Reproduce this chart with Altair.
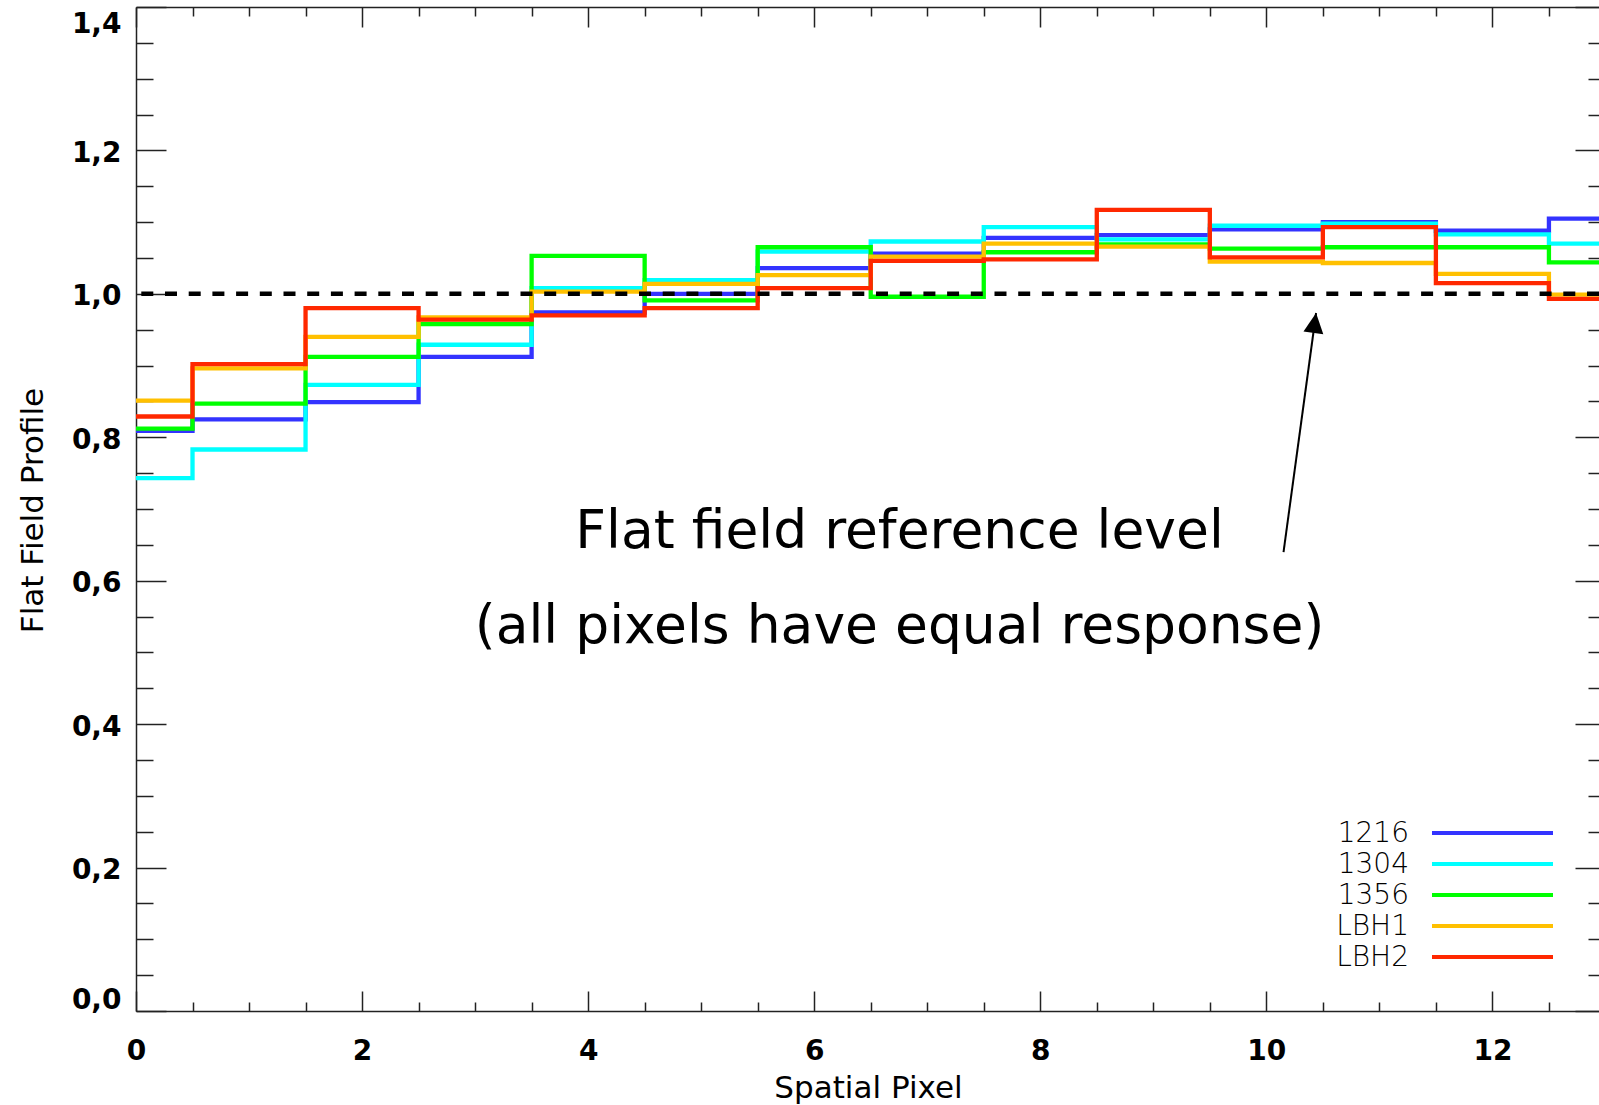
import altair as alt
import pandas as pd

# ---- data -------------------------------------------------------------
pixels = list(range(14))
series_names = ["1216", "1304", "1356", "LBH1", "LBH2"]
series_colors = ["#3333ff", "#00ffff", "#00ff00", "#ffc000", "#ff2800"]
series_widths = [4.3, 4.3, 4.3, 4.3, 5]

profile_1216 = [0.809, 0.825, 0.849, 0.912, 0.974, 1.000, 1.036, 1.056, 1.078, 1.082, 1.090, 1.100, 1.088, 1.105]
profile_1304 = [0.743, 0.783, 0.873, 0.929, 1.008, 1.019, 1.059, 1.073, 1.093, 1.076, 1.095, 1.098, 1.083, 1.070]
profile_1356 = [0.812, 0.847, 0.912, 0.958, 1.053, 0.991, 1.065, 0.996, 1.058, 1.069, 1.063, 1.065, 1.065, 1.044]
profile_lbh1 = [0.851, 0.896, 0.940, 0.967, 1.003, 1.014, 1.026, 1.052, 1.070, 1.066, 1.045, 1.043, 1.028, 0.999]
profile_lbh2 = [0.829, 0.902, 0.980, 0.964, 0.970, 0.980, 1.008, 1.046, 1.048, 1.117, 1.051, 1.093, 1.015, 0.993]

reference_level = [1.0]

note_lines = ["Flat field reference level", "(all pixels have equal response)"]
note_x = [6.755, 6.755]
note_y = [0.6452, 0.5127]

arrow_tail_x, arrow_tail_y = [10.152], [0.640]
arrow_tip_x, arrow_tip_y = [10.440], [0.9733]

y_major = [0.0, 0.2, 0.4, 0.6, 0.8, 1.0, 1.2, 1.4]
y_ticks = [round(0.05 * i, 2) for i in range(29)]
x_major = [0, 2, 4, 6, 8, 10, 12]
x_ticks = [0.5 * i for i in range(26)]

# ---- layout / style ---------------------------------------------------
W, H = 1463, 1004
FONT = "DejaVu Sans"
AX = "#222222"

profiles = [profile_1216, profile_1304, profile_1356, profile_lbh1, profile_lbh2]
rows = []
for k, (name, vals) in enumerate(zip(series_names, profiles)):
    for p, v in zip(pixels, vals):
        rows.append({"pixel": p, "value": v, "series": name, "k": k})
profile_df = pd.DataFrame(rows)

xs = alt.Scale(domain=[0, 12.943], nice=False, zero=False)
ys = alt.Scale(domain=[0, 1.4], nice=False, zero=False)
color = alt.Color("series:N", scale=alt.Scale(domain=series_names, range=series_colors), legend=None)
width_enc = alt.StrokeWidth("series:N", scale=alt.Scale(domain=series_names, range=series_widths), legend=None)

y_major_test = "abs(datum.value * 5 - round(datum.value * 5)) < 0.001"
x_major_test = "abs(datum.value / 2 - round(datum.value / 2)) < 0.001"


def tick_axis(orient, offset, values, test, major, minor, domain=False):
    return alt.Axis(
        orient=orient, offset=offset, values=values, labels=False, domain=domain,
        domainColor=AX, domainWidth=1.5, grid=False, title="", ticks=True,
        tickColor=AX, tickWidth=1.5,
        tickSize={"condition": {"test": test, "value": major}, "value": minor},
    )


y_label_axis = alt.Axis(
    orient="left", values=y_major, format=".1f",
    labelExpr="replace(datum.label, '.', ',')",
    ticks=False, tickSize=0, domain=True, domainColor=AX, domainWidth=1.5, grid=False,
    labelFont=FONT, labelFontSize=28, labelFontWeight="bold", labelColor="black",
    labelPadding=15, labelFlush=True, labelOffset=3,
    title="Flat Field Profile", titleFont=FONT, titleFontSize=31, titleFontWeight="normal",
    titleColor="black", titleAngle=270, titleX=-93.5, titleY=503,
    titleAlign="center", titleBaseline="alphabetic",
)
x_label_axis = alt.Axis(
    orient="bottom", values=x_major, format="d",
    ticks=False, tickSize=0, domain=True, domainColor=AX, domainWidth=1.5, grid=False,
    labelFont=FONT, labelFontSize=28, labelFontWeight="bold", labelColor="black",
    labelPadding=26, labelFlush=False,
    title="Spatial Pixel", titleFont=FONT, titleFontSize=31, titleFontWeight="normal",
    titleColor="black", titleX=732, titleY=86, titleAlign="center", titleBaseline="alphabetic",
)

# ---- layers -----------------------------------------------------------
lines = alt.Chart(profile_df).mark_line(
    interpolate="step", clip=True, strokeJoin="miter", strokeCap="square"
).encode(
    x=alt.X("pixel:Q", scale=xs, axis=x_label_axis),
    y=alt.Y("value:Q", scale=ys, axis=y_label_axis),
    color=color,
    strokeWidth=width_enc,
    order=alt.Order("k:Q"),
)

dashed = alt.Chart(pd.DataFrame({"level": reference_level})).mark_rule(
    color="black", strokeWidth=4.5, strokeDash=[12, 11.7]
).encode(y=alt.Y("level:Q", scale=ys, axis=None))

arrow_df = pd.DataFrame({"x0": arrow_tail_x, "y0": arrow_tail_y, "x1": arrow_tip_x, "y1": arrow_tip_y})

arrow_line = alt.Chart(arrow_df).mark_rule(color="black", strokeWidth=2).encode(
    x=alt.X("x0:Q", scale=xs, axis=tick_axis("bottom", -H, x_ticks, x_major_test, 20, 9, domain=True)),
    y=alt.Y("y0:Q", scale=ys, axis=tick_axis("left", -W, y_ticks, y_major_test, 24, 11)),
    x2="x1:Q",
    y2="y1:Q",
)

arrow_head = alt.Chart(arrow_df).mark_point(
    shape="M0,0L-1,2L1,2Z", size=400, filled=True, color="black", opacity=1,
    strokeWidth=0, angle=7.7,
).encode(
    x=alt.X("x1:Q", scale=xs, axis=tick_axis("top", -H, x_ticks, x_major_test, 20, 9)),
    y=alt.Y("y1:Q", scale=ys, axis=tick_axis("right", -W, y_ticks, y_major_test, 30, 17)),
)

notes = alt.Chart(pd.DataFrame({"text": note_lines, "x": note_x, "y": note_y})).mark_text(
    font=FONT, fontSize=53.5, color="black", align="center", baseline="alphabetic"
).encode(
    x=alt.X("x:Q", scale=xs, axis=None),
    y=alt.Y("y:Q", scale=ys, axis=None),
    text="text:N",
)

legend_df = pd.DataFrame({"series": series_names, "row": list(range(len(series_names)))})

legend_lines = alt.Chart(legend_df).transform_calculate(
    ly="826 + 31 * datum.row"
).mark_rule(strokeWidth=4).encode(
    x=alt.value(1296), x2=alt.value(1417),
    y=alt.Y("ly:Q", scale=None, axis=None),
    color=color,
)

legend_text = alt.Chart(legend_df).transform_calculate(
    ly="826 + 31 * datum.row"
).mark_text(
    font=FONT, fontSize=28, fontWeight=200, color="black", align="right", baseline="middle", dy=1
).encode(
    x=alt.value(1273),
    y=alt.Y("ly:Q", scale=None, axis=None),
    text="series:N",
)

chart = alt.layer(
    lines, dashed, arrow_line, arrow_head, notes, legend_lines, legend_text
).resolve_axis(
    x="independent", y="independent"
).properties(
    width=W, height=H,
    autosize=alt.AutoSizeParams(type="none"),
    padding={"left": 136, "top": 7, "right": 0, "bottom": 94},
    background="white",
).configure_view(stroke=None)

chart.save("out.html", embed_options={"renderer": "svg", "actions": False})
